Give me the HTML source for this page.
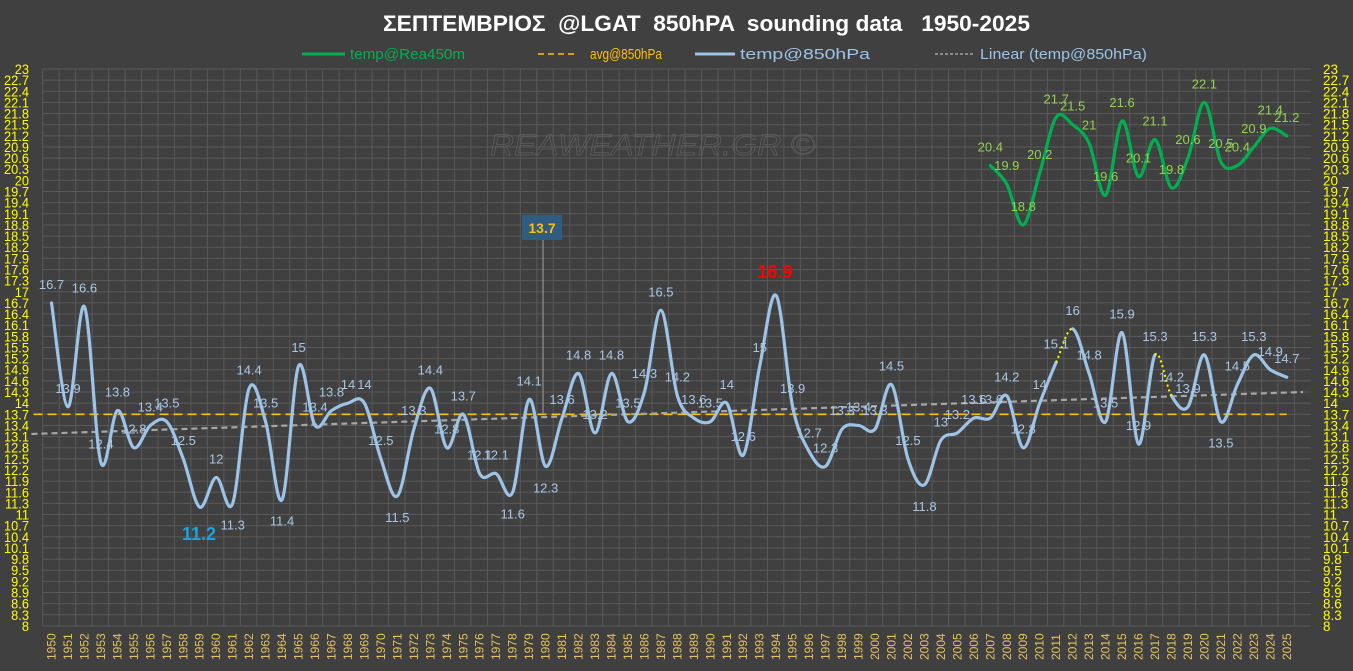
<!DOCTYPE html>
<html><head><meta charset="utf-8">
<style>
html,body{margin:0;padding:0;background:#404040;}
svg{display:block;}
text{font-family:"Liberation Sans",sans-serif;}
</style></head>
<body>
<svg id="s" width="1353" height="671" viewBox="0 0 1353 671" xmlns="http://www.w3.org/2000/svg">
<rect width="1353" height="671" fill="#404040"/>
<g id="grid"></g>
<text x="490" y="155" font-size="30" fill="none" stroke="#5f5f5f" stroke-width="0.7" font-style="italic" textLength="325" lengthAdjust="spacingAndGlyphs">REAWEATHER.GR  ©</text>
<g id="series"></g>
<text x="383" y="31" font-size="22" font-weight="bold" fill="#ffffff" textLength="647" lengthAdjust="spacingAndGlyphs" xml:space="preserve">ΣΕΠΤΕΜΒΡΙΟΣ  @LGAT  850hPA  sounding data   1950-2025</text>
<g font-size="15">
<line x1="302" y1="54" x2="345" y2="54" stroke="#00b050" stroke-width="3"/>
<text x="350" y="59" fill="#00b050" textLength="115" lengthAdjust="spacingAndGlyphs">temp@Rea450m</text>
<line x1="538" y1="54" x2="578" y2="54" stroke="#ffc000" stroke-width="1.5" stroke-dasharray="6,4"/>
<text x="590" y="59" fill="#ffc000" textLength="72" lengthAdjust="spacingAndGlyphs">avg@850hPa</text>
<line x1="695" y1="54" x2="735" y2="54" stroke="#9dc3e6" stroke-width="3"/>
<text x="740" y="59" fill="#9dc3e6" textLength="130" lengthAdjust="spacingAndGlyphs">temp@850hPa</text>
<line x1="935" y1="54" x2="975" y2="54" stroke="#a0a0a0" stroke-width="1.5" stroke-dasharray="3,2"/>
<text x="980" y="59" fill="#9dc3e6" textLength="167" lengthAdjust="spacingAndGlyphs">Linear (temp@850hPa)</text>
</g>
</svg>
<script>
(function(){
var NS="http://www.w3.org/2000/svg";
function el(p,t,a,txt){var e=document.createElementNS(NS,t);for(var k in a)e.setAttribute(k,a[k]);if(txt!=null)e.textContent=txt;p.appendChild(e);return e;}
var grid=document.getElementById("grid"),ser=document.getElementById("series");
function Y(v){return 69+(23-v)*37.13;}
function X(yr){return 51.5+(yr-1950)*16.47;}
var left=42.7;
for(var i=0;i<=50;i++){var v=8+i*0.3;var y=Y(v);
 el(grid,"line",{x1:left,x2:1311,y1:y,y2:y,stroke:"#595959","stroke-width":1});
 var lab=(Math.round(v*10)/10).toString();
 el(grid,"text",{x:29,y:y+5,"text-anchor":"end","font-size":"13.5",fill:"#ffff00",transform:"translate(29 0) scale(0.95 1) translate(-29 0)"},lab);
 el(grid,"text",{x:1323,y:y+5,"font-size":"13.5",fill:"#ffff00"},lab);
}
var yl=Y(23);el(grid,"line",{x1:left,x2:1311,y1:yl,y2:yl,stroke:"#595959"});
for(var j=0;j<=76;j++){var x=left+j*16.47;
 el(grid,"line",{x1:x,x2:x,y1:69,y2:626,stroke:"#595959","stroke-width":1});}
for(var yr=1950;yr<=2025;yr++){var x=X(yr)+4;
 el(grid,"text",{x:0,y:0,"font-size":"12",fill:"#e6c35c",transform:"translate("+x+" 660) rotate(-90)"},yr);}
var t=[16.7,13.9,16.6,12.4,13.8,12.8,13.4,13.5,12.5,11.2,12,11.3,14.4,13.5,11.4,15,13.4,13.8,14,14,12.5,11.5,13.3,14.4,12.8,13.7,12.1,12.1,11.6,14.1,12.3,13.6,14.8,13.2,14.8,13.5,14.3,16.5,14.2,13.6,13.5,14,12.6,15,16.9,13.9,12.7,12.3,13.3,13.4,13.3,14.5,12.5,11.8,13,13.2,13.6,13.6,14.2,12.8,14,15.1,16,14.8,13.5,15.9,12.9,15.3,14.2,13.9,15.3,13.5,14.5,15.3,14.9,14.7];
var g=[20.4,19.9,18.8,20.2,21.7,21.5,21,19.6,21.6,20.1,21.1,19.8,20.6,22.1,20.5,20.4,20.9,21.4,21.2];
function pts(arr,y0){return arr.map(function(v,i){return [X(y0+i),Y(v)];});}
function seg(p,i){
 var p0=p[Math.max(i-1,0)],p1=p[i],p2=p[i+1],p3=p[Math.min(i+2,p.length-1)],k=1/6;
 return "C"+(p1[0]+(p2[0]-p0[0])*k)+","+(p1[1]+(p2[1]-p0[1])*k)+" "+(p2[0]-(p3[0]-p1[0])*k)+","+(p2[1]-(p3[1]-p1[1])*k)+" "+p2[0]+","+p2[1];}
el(ser,"line",{x1:X(1950)-18,x2:X(2025),y1:Y(13.7),y2:Y(13.7),stroke:"#ffc000","stroke-width":1.6,"stroke-dasharray":"9,5"});
el(ser,"line",{x1:X(1950)-20,x2:1303,y1:Y(13.17),y2:Y(14.3),stroke:"#a6a6a6","stroke-width":2.2,"stroke-dasharray":"6,4"});
el(ser,"line",{x1:543,x2:543,y1:240,y2:Y(13.7),stroke:"#a0a0a0","stroke-width":1});
el(ser,"rect",{x:522,y:215,width:40,height:25,fill:"#2f5c80"});
el(ser,"text",{x:542,y:233,"text-anchor":"middle","font-size":"14","font-weight":"bold",fill:"#ffc000"},"13.7");
var pb=pts(t,1950);
var d="M"+pb[0][0]+","+pb[0][1];
var dots=[];
for(var i=0;i<pb.length-1;i++){
 var yr=1950+i;
 if(yr==2011||yr==2017){dots.push("M"+pb[i][0]+","+pb[i][1]+seg(pb,i));d+="M"+pb[i+1][0]+","+pb[i+1][1];}
 else d+=seg(pb,i);}
el(ser,"path",{d:d,fill:"none",stroke:"#9dc3e6","stroke-width":3.2,"stroke-linejoin":"round","stroke-linecap":"round"});
el(ser,"path",{d:dots.join(""),fill:"none",stroke:"#ffff00","stroke-width":2,"stroke-dasharray":"2,3"});
var pg=pts(g,2007);var dg="M"+pg[0][0]+","+pg[0][1];for(var i=0;i<pg.length-1;i++)dg+=seg(pg,i);
el(ser,"path",{d:dg,fill:"none",stroke:"#00b050","stroke-width":3.2,"stroke-linejoin":"round","stroke-linecap":"round"});
var below={1961:1,1964:1,1971:1,1978:1,1980:1,2003:1,2021:1};
for(var i=0;i<t.length;i++){var yr=1950+i;if(yr==1959||yr==1994)continue;
 var x=pb[i][0],y=pb[i][1];
 var ly=below[yr]?y+26:y-14;
 el(ser,"text",{x:x,y:ly,"text-anchor":"middle","font-size":"13",fill:"#a9c6e4"},String(t[i]));}
for(var i=0;i<g.length;i++){
 el(ser,"text",{x:pg[i][0],y:pg[i][1]-14,"text-anchor":"middle","font-size":"13",fill:"#92d050"},String(g[i]));}
el(ser,"text",{x:199,y:540,"text-anchor":"middle","font-size":"18","font-weight":"bold",fill:"#1aa3e0"},"11.2");
el(ser,"text",{x:775,y:278,"text-anchor":"middle","font-size":"18","font-weight":"bold",fill:"#ff0000"},"16.9");
})();
</script>
</body></html>
